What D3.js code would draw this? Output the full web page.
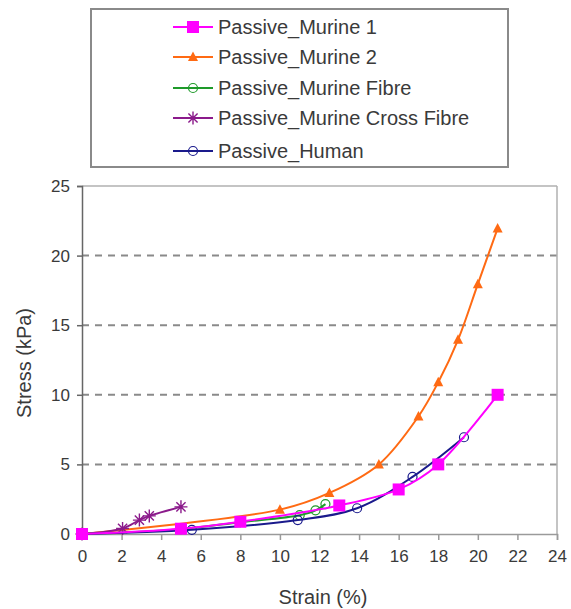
<!DOCTYPE html>
<html><head><meta charset="utf-8">
<script src="https://cdn.jsdelivr.net/npm/d3@7"></script>
<style>body{margin:0;background:#fff}svg{display:block}</style>
</head><body>
<svg id="c" width="571" height="609"></svg>
<script>
const seriesNames = ["Passive_Murine 1","Passive_Murine 2","Passive_Murine Fibre","Passive_Murine Cross Fibre","Passive_Human"];
const seriesColors = ["#ff00ff","#ff6a13","#1e9a2a","#8b1a8b","#1a1a8c"];
const murine1X = [0,5,8,13,16,18,21];
const murine1Y = [0,0.38,0.88,2.05,3.2,5.0,10.0];
const murine2X = [0,10,12.5,15,17,18,19,20,21];
const murine2Y = [0,1.75,2.95,5.0,8.45,10.9,13.95,17.95,21.95];
const fibreX = [0,5,8,11,11.8,12.3];
const fibreY = [0,0.35,0.85,1.35,1.7,2.15];
const crossX = [0,2.05,2.9,3.4,5.0];
const crossY = [0,0.4,1.0,1.3,1.95];
const humanX = [0,5.55,10.9,13.9,16.7,19.3];
const humanY = [0,0.3,1.0,1.85,4.1,6.95];
const xTicks = [0,2,4,6,8,10,12,14,16,18,20,22,24];
const yTicks = [0,5,10,15,20,25];
const markers = ["square","triangle","circle","star","circle"];

const svg = d3.select("#c");
const font = "Arial, 'Liberation Sans', sans-serif";
const x = d3.scaleLinear().domain([0,24]).range([82,557]);
const y = d3.scaleLinear().domain([0,25]).range([534,186]);

// gridlines
svg.append("g").selectAll("line").data(yTicks.filter(d=>d>0&&d<25)).join("line")
  .attr("x1",x(0)).attr("x2",x(24)).attr("y1",d=>y(d)).attr("y2",d=>y(d))
  .attr("stroke","#8a8a8a").attr("stroke-width",2).attr("stroke-dasharray","7,6");
// frame top & right
svg.append("line").attr("x1",x(0)).attr("x2",x(24)).attr("y1",y(25)).attr("y2",y(25)).attr("stroke","#b0b0b0").attr("stroke-width",1.5);
svg.append("line").attr("x1",x(24)).attr("x2",x(24)).attr("y1",y(25)).attr("y2",y(0)).attr("stroke","#b0b0b0").attr("stroke-width",1.5);

// axes
const xa = svg.append("g").attr("transform",`translate(0,${y(0)})`)
  .call(d3.axisBottom(x).tickValues(xTicks).tickSize(6).tickPadding(10).tickFormat(d=>d));
xa.select(".domain").attr("stroke","#9a9a9a").attr("stroke-width",1.5);
xa.selectAll(".tick line").attr("stroke","#9a9a9a").attr("stroke-width",1.5);
xa.selectAll("text").attr("font-family",font).attr("font-size",17).attr("fill","#3a3a3a");

const ya = svg.append("g").attr("transform",`translate(${x(0)},0)`)
  .call(d3.axisLeft(y).tickValues(yTicks).tickSize(5).tickPadding(7).tickFormat(d=>d));
ya.select(".domain").attr("stroke","#666").attr("stroke-width",1.5);
ya.selectAll(".tick line").attr("stroke","#666").attr("stroke-width",1.5);
ya.selectAll("text").attr("font-family",font).attr("font-size",17).attr("fill","#3a3a3a");

svg.append("text").attr("x",323).attr("y",604).attr("text-anchor","middle")
  .attr("font-family",font).attr("font-size",20).attr("fill","#3a3a3a").text("Strain (%)");
svg.append("text").attr("transform","translate(31,363) rotate(-90)").attr("text-anchor","middle")
  .attr("font-family",font).attr("font-size",20).attr("fill","#3a3a3a").text("Stress (kPa)");

const data = [
  murine1X.map((v,i)=>[v,murine1Y[i]]),
  murine2X.map((v,i)=>[v,murine2Y[i]]),
  fibreX.map((v,i)=>[v,fibreY[i]]),
  crossX.map((v,i)=>[v,crossY[i]]),
  humanX.map((v,i)=>[v,humanY[i]])
];
const line = d3.line().x(d=>x(d[0])).y(d=>y(d[1])).curve(d3.curveCatmullRom.alpha(0.5));

function drawMarker(g, type, cx, cy, color, s){
  if(type==="square"){
    g.append("rect").attr("x",cx-s).attr("y",cy-s).attr("width",2*s).attr("height",2*s).attr("fill",color);
  } else if(type==="triangle"){
    g.append("path").attr("d",`M${cx},${cy-s*1.1}L${cx+s},${cy+s*0.8}L${cx-s},${cy+s*0.8}Z`).attr("fill",color);
  } else if(type==="circle"){
    g.append("circle").attr("cx",cx).attr("cy",cy).attr("r",s).attr("fill","none").attr("stroke",color).attr("stroke-width",1.2);
  } else if(type==="star"){
    const p=[];
    for(let k=0;k<4;k++){const a=k*Math.PI/4;p.push(`M${cx-s*Math.cos(a)},${cy-s*Math.sin(a)}L${cx+s*Math.cos(a)},${cy+s*Math.sin(a)}`);}
    g.append("path").attr("d",p.join("")).attr("stroke",color).attr("stroke-width",1.4).attr("fill","none");
  }
}
const msize = [6,5,4.5,6.5,4.5];
const order = [1,3,2,4,0];
order.forEach(i=>{
  const g = svg.append("g");
  g.append("path").datum(data[i]).attr("d",line).attr("fill","none").attr("stroke",seriesColors[i]).attr("stroke-width",2);
  data[i].forEach(d=>drawMarker(g,markers[i],x(d[0]),y(d[1]),seriesColors[i],msize[i]));
});

// legend
svg.append("rect").attr("x",91).attr("y",9).attr("width",417).attr("height",158)
  .attr("fill","#fff").attr("stroke","#8a8a8a").attr("stroke-width",2);
const rowsY = [27,57,88,118,151];
seriesNames.forEach((n,i)=>{
  const g = svg.append("g");
  g.append("line").attr("x1",173).attr("x2",213).attr("y1",rowsY[i]).attr("y2",rowsY[i]).attr("stroke",seriesColors[i]).attr("stroke-width",2);
  drawMarker(g,markers[i],193,rowsY[i],seriesColors[i],msize[i]);
  g.append("text").attr("x",218).attr("y",rowsY[i]).attr("dy","0.35em")
    .attr("font-family",font).attr("font-size",20).attr("fill","#3a3a3a").text(n);
});
</script>
</body></html>
